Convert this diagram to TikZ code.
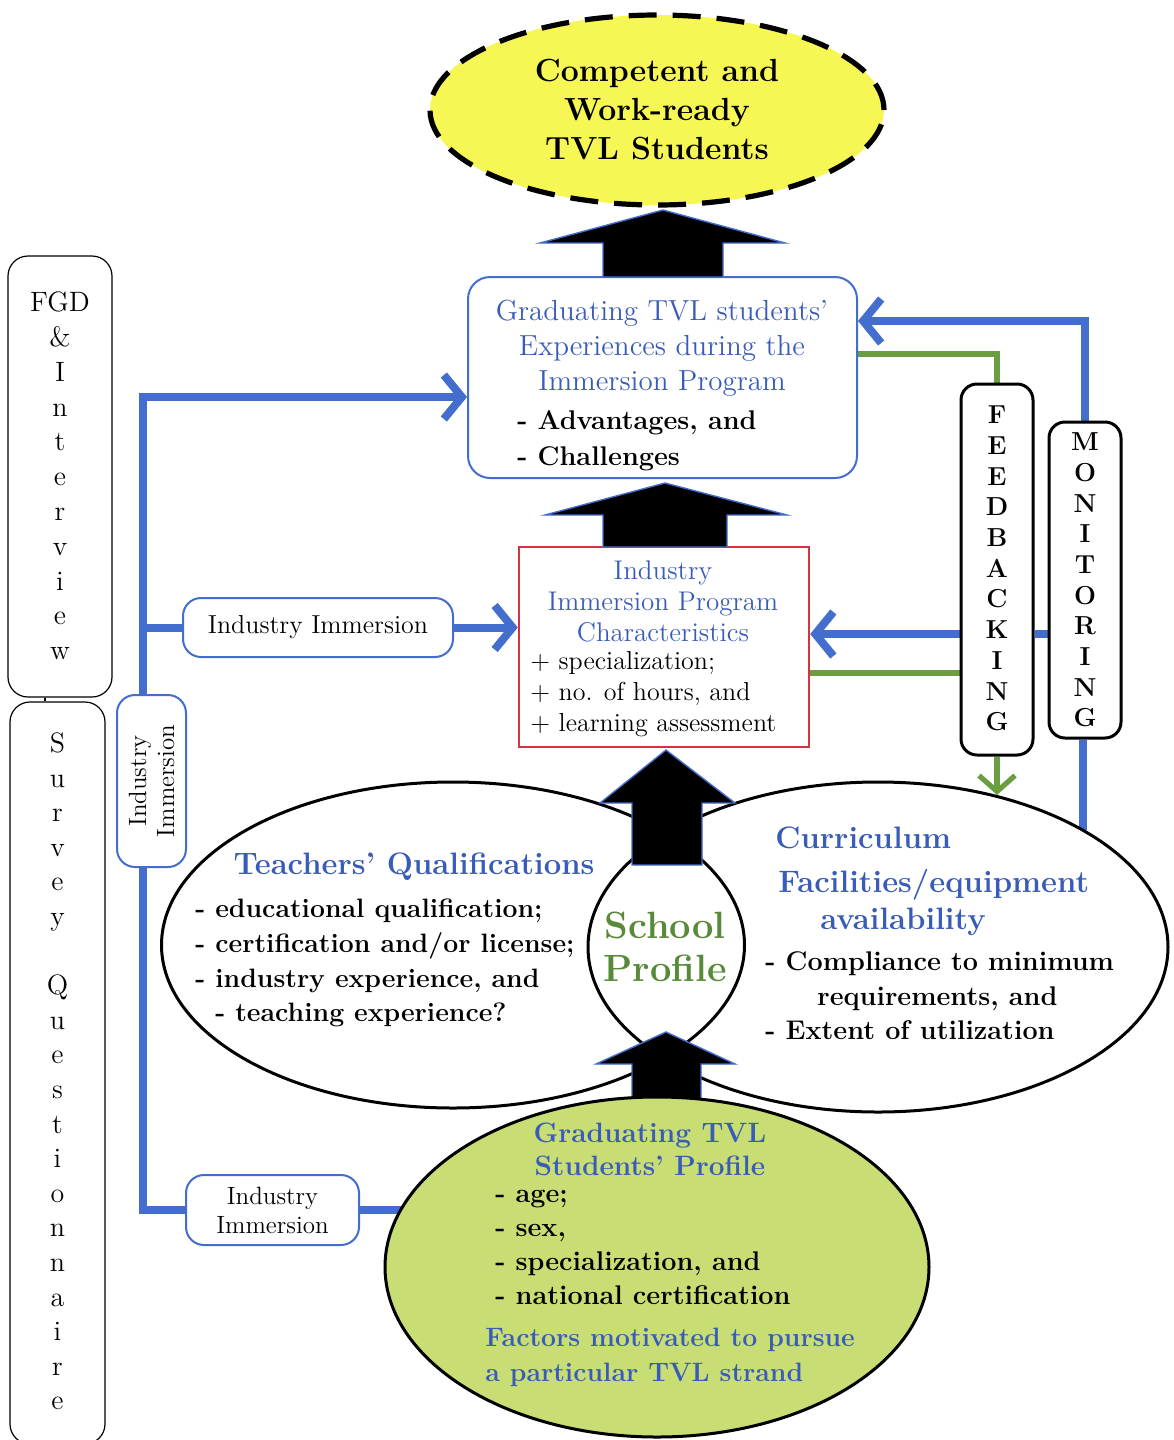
\documentclass[tikz,border=0pt]{standalone}
\usetikzlibrary{shapes.geometric,arrows.meta}
\definecolor{lineblue}{RGB}{68,110,205}
\definecolor{txtblue}{RGB}{58,92,185}
\definecolor{lgreen}{RGB}{106,158,64}
\definecolor{txtgreen}{RGB}{88,138,58}
\definecolor{fillgreen}{RGB}{200,221,115}
\definecolor{yell}{RGB}{246,246,84}
\definecolor{redb}{RGB}{212,52,64}
\pgfdeclarelayer{bg}
\pgfsetlayers{bg,main}
\begin{document}
\begin{tikzpicture}[x=0.5pt,y=-0.5pt,
  txt/.style={inner sep=0pt, align=center},
  ltxt/.style={inner sep=0pt, align=left, anchor=west},
  ell/.style={ellipse, inner sep=0pt},
  bluebox/.style={draw=lineblue, line width=1pt, rounded corners=9pt, fill=white, inner sep=0pt, align=center},
  blackbox/.style={draw=black, line width=0.6pt, rounded corners=10pt, fill=white, inner sep=0pt, align=center},
  fbbox/.style={draw=black, line width=1.5pt, rounded corners=8pt, fill=white, inner sep=0pt, align=center},
  blueline/.style={draw=lineblue, line width=4pt},
  greenline/.style={draw=lgreen, line width=2.6pt},
  bbarb/.style={-{Straight Barb[length=9pt,width=22pt]}},
  gbarb/.style={-{Straight Barb[length=8pt,width=18pt]}},
  blockarrow/.style={fill=black, draw=lineblue, line width=0.7pt, line join=miter},
  ellline/.style={draw=black, line width=1.5pt}
]
\useasboundingbox (0,0) rectangle (1173,1440);
\clip (0,0) rectangle (1173,1440);

% ---------- left method boxes ----------
\node[blackbox, minimum width=52pt, minimum height=220.5pt] (fgd) at (60,476.5) {};
\node[txt, font=\fontsize{14}{17.4}\selectfont] (fgdt) at (60,476) {FGD\\\&\\I\\n\\t\\e\\r\\v\\i\\e\\w};
\node[blackbox, minimum width=47.5pt, minimum height=371pt] (srv) at (57.5,1073) {};
\node[txt, font=\fontsize{14}{17.3}\selectfont] (srvt) at (57.5,1071.5) {S\\u\\r\\v\\e\\y\\~\\Q\\u\\e\\s\\t\\i\\o\\n\\n\\a\\i\\r\\e};
\coordinate (c45) at (45,0);

% ---------- main boxes ----------
\node[draw=lineblue, line width=1pt, rounded corners=11pt, fill=white, minimum width=194.5pt, minimum height=100.5pt] (grad) at (662.5,377.5) {};
\node[txt, text=txtblue, font=\fontsize{14.5}{17.5}\selectfont] (gradt) at (662,348) {Graduating TVL students’\\Experiences during the\\Immersion Program};
\node[ltxt, font=\bfseries\fontsize{13.5}{18}\selectfont] (gradl) at (517,441) {- Advantages, and\\- Challenges};

\node[draw=redb, line width=1.2pt, fill=white, minimum width=145pt, minimum height=100pt] (iipc) at (664,647) {};
\node[txt, text=txtblue, font=\fontsize{13.5}{15.5}\selectfont] (iipct) at (663,601.5) {Industry\\Immersion Program\\Characteristics};
\node[ltxt, font=\fontsize{13}{15.5}\selectfont] (iipcl) at (530,694) {+ specialization;\\+ no. of hours, and\\+ learning assessment};

% Industry Immersion boxes
\node[bluebox, minimum width=135pt, minimum height=29.5pt, font=\fontsize{13}{15}\selectfont] (ii1) at (318,627.5) {Industry Immersion};
\node[bluebox, rotate=90, minimum width=86pt, minimum height=34.5pt, font=\fontsize{12.5}{14}\selectfont] (ii2) at (151.5,781) {Industry\\Immersion};
\node[bluebox, minimum width=86.5pt, minimum height=35pt, font=\fontsize{12.5}{14.5}\selectfont] (ii3) at (272.5,1210) {Industry\\Immersion};

% Feedbacking / Monitoring
\node[fbbox, minimum width=36pt, minimum height=185.5pt] (fb) at (997,569.5) {};
\node[txt, font=\bfseries\fontsize{13}{15.35}\selectfont] (fbt) at (997,568.5) {F\\E\\E\\D\\B\\A\\C\\K\\I\\N\\G};
\node[fbbox, minimum width=36pt, minimum height=158pt] (mon) at (1085,580) {};
\node[txt, font=\bfseries\fontsize{13}{15.35}\selectfont] (mont) at (1085,580) {M\\O\\N\\I\\T\\O\\R\\I\\N\\G};

% ---------- school profile ellipses ----------
\node[ell, fill=white, minimum width=291.5pt, minimum height=163pt] (lell) at (453,945) {};
\node[ell, fill=white, minimum width=290pt, minimum height=165pt] (rell) at (878,947) {};
\draw[ellline] (lell.center) ellipse [x radius=145.75pt, y radius=81.5pt];
\draw[ellline] (rell.center) ellipse [x radius=145pt, y radius=82.5pt];

% block arrows
\draw[blockarrow] (603,277) -- (603,243) -- (540,243) -- (663,210) -- (785,243) -- (723,243) -- (723,277) -- cycle;
\draw[blockarrow] (603,547) -- (603,515) -- (545,515) -- (665,483) -- (787,515) -- (727,515) -- (727,547) -- cycle;
\draw[blockarrow] (632,865) -- (632,803) -- (600,803) -- (666,750) -- (735,803) -- (702,803) -- (702,865) -- cycle;
\draw[blockarrow] (632,1105) -- (632,1064) -- (596,1064) -- (666,1032) -- (735,1064) -- (701,1064) -- (701,1105) -- cycle;

% green ellipse
\node[ell, draw=black, line width=1.5pt, fill=fillgreen, minimum width=272pt, minimum height=170pt] (gsp) at (657,1267) {};

% top goal ellipse
\node[ell, draw=black, line width=2.6pt, dash pattern=on 14pt off 8pt, fill=yell, minimum width=227pt, minimum height=95pt, align=center, font=\bfseries\fontsize{16}{19.5}\selectfont] (goal) at (657,110) {Competent and\\Work-ready\\TVL Students};

% ---------- ellipse texts ----------
\node[txt, text=txtblue, font=\bfseries\fontsize{15.5}{18}\selectfont] (tqh) at (414,867) {Teachers’ Qualifications};
\node[ltxt, font=\bfseries\fontsize{13.3}{17.4}\selectfont] (tql) at (195,963) {- educational qualification;\\- certification and/or license;\\- industry experience, and\\\hspace*{10pt}- teaching experience?};
\node[txt, text=txtgreen, font=\bfseries\fontsize{19}{21.5}\selectfont] (sp) at (665,946.5) {School\\Profile};
\node[ltxt, text=txtblue, font=\bfseries\fontsize{15.5}{18}\selectfont] (cur) at (775,838) {Curriculum};
\node[ltxt, text=txtblue, font=\bfseries\fontsize{15.5}{18}\selectfont] (fac) at (778,885) {Facilities/equipment};
\node[txt, text=txtblue, font=\bfseries\fontsize{15.5}{18}\selectfont] (avail) at (903,922) {availability};
\node[ltxt, font=\bfseries\fontsize{13.5}{17.3}\selectfont] (rlist) at (765,996) {- Compliance to minimum\\\hspace*{26pt}requirements, and\\- Extent of utilization};

\node[txt, text=txtblue, font=\bfseries\fontsize{14}{16.5}\selectfont] (gspt) at (650,1149.5) {Graduating TVL\\Students’ Profile};
\node[ltxt, font=\bfseries\fontsize{13.5}{17}\selectfont] (gspl) at (495,1247.5) {- age;\\- sex,\\- specialization, and\\- national certification};
\node[ltxt, text=txtblue, font=\bfseries\fontsize{13.3}{17.5}\selectfont] (gspf) at (485,1357) {Factors motivated to pursue\\a particular TVL strand};

% ---------- connectors (behind) ----------
\coordinate (ytop) at (0,397);
\coordinate (trunkx) at (143,0);
\coordinate (ymon) at (0,321);
\coordinate (ymid) at (0,634);
\coordinate (ygr1) at (0,354);
\coordinate (ygr2) at (0,673);
\coordinate (fbx) at (997,0);
\coordinate (fbend) at (997,795);
\begin{pgfonlayer}{bg}
  \fill[white] (0,0) rectangle (1173,1440);
  % left trunk
  \draw[blueline] (ii3.west) -- (ii3.west -| trunkx) -- (ii2.west -| trunkx);
  \draw[blueline, bbarb] (ii2.east -| trunkx) -- (ytop -| trunkx) -- (grad.west |- ytop);
  \draw[blueline] (ii1.west -| trunkx) -- (ii1.west);
  \draw[blueline, bbarb] (ii1.east) -- (iipc.west |- ii1.east);
  \draw[blueline] (ii3.east) -- (gsp.center |- ii3.east);
  % monitoring
  \draw[blueline, bbarb] (mon.north) -- (mon.north |- ymon) -- (grad.east |- ymon);
  \draw[blueline] (rell.north east |- mon.south) -- (rell.north east);
  \draw[blueline] (mon.west |- ymid) -- (fb.east |- ymid);
  \draw[blueline, bbarb] (fb.west |- ymid) -- (iipc.east |- ymid);
  % feedbacking
  \draw[greenline] (grad.east |- ygr1) -- (fbx |- ygr1) -- (fb.north);
  \draw[greenline] (iipc.east |- ygr2) -- (fb.west |- ygr2);
  \draw[greenline, gbarb] (fb.south) -- (fbend);
  % small link between method boxes
  \draw[line width=0.8pt] (fgd.south -| c45) -- (srv.north -| c45);
\end{pgfonlayer}
\end{tikzpicture}
\end{document}
